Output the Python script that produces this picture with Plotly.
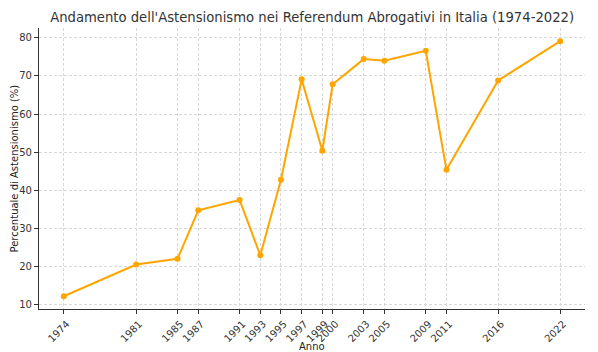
import plotly.graph_objects as go

anni = [1974, 1981, 1985, 1987, 1991, 1993, 1995, 1997, 1999, 2000, 2003, 2005, 2009, 2011, 2016, 2022]
astensione = [12.3, 20.6, 22.1, 34.8, 37.5, 23.0, 42.8, 69.1, 50.4, 67.8, 74.4, 74.0, 76.6, 45.4, 68.8, 79.1]
tick_labels = [str(a) for a in anni]
y_ticks = [10, 20, 30, 40, 50, 60, 70, 80]

FONT = "DejaVu Sans"
fig = go.Figure(go.Scatter(
    x=anni, y=astensione, mode="lines+markers",
    line=dict(color="#FFA500", width=2),
    marker=dict(color="#FFA500", size=6),
))

fig.update_layout(
    width=598, height=352,
    margin=dict(l=39, r=13, t=28, b=43),
    paper_bgcolor="white", plot_bgcolor="white",
    font=dict(family=FONT, color="#222", size=10),
    showlegend=False,
    title=dict(text="Andamento dell'Astensionismo nei Referendum Abrogativi in Italia (1974-2022)",
               x=0.522, xanchor="center", y=0.95, yanchor="middle",
               font=dict(family=FONT, size=13.2, color="#333")),
    annotations=[
        dict(text="Anno", xref="paper", yref="paper", x=0.5, y=0, yshift=-37,
             xanchor="center", yanchor="middle", showarrow=False,
             font=dict(family=FONT, size=10, color="#222")),
        dict(text="Percentuale di Astensionismo (%)", xref="paper", yref="paper",
             x=0, xshift=-25, y=0.5, xanchor="center", yanchor="middle",
             textangle=-90, showarrow=False,
             font=dict(family=FONT, size=10, color="#222")),
    ],
)
fig.update_xaxes(
    automargin=False,
    range=[1971.6, 2024.4], tickmode="array", tickvals=anni, ticktext=tick_labels,
    tickangle=-45, ticks="outside", ticklen=4, tickcolor="#333", ticklabelshift=3,
    showgrid=True, gridcolor="#d8d8d8", griddash="3px,2px", gridwidth=0.8,
    showline=True, linecolor="#333", linewidth=1.2, mirror=False, zeroline=False,
    tickfont=dict(family=FONT, size=10, color="#333"),
)
fig.update_yaxes(
    automargin=False,
    range=[8.95, 82.55], tickmode="array", tickvals=y_ticks,
    ticks="outside", ticklen=4, tickcolor="#333",
    showgrid=True, gridcolor="#d8d8d8", griddash="3px,2px", gridwidth=0.8,
    showline=True, linecolor="#333", linewidth=1.2, zeroline=False,
    tickfont=dict(family=FONT, size=10, color="#333"),
)
fig.write_html("out.html")
